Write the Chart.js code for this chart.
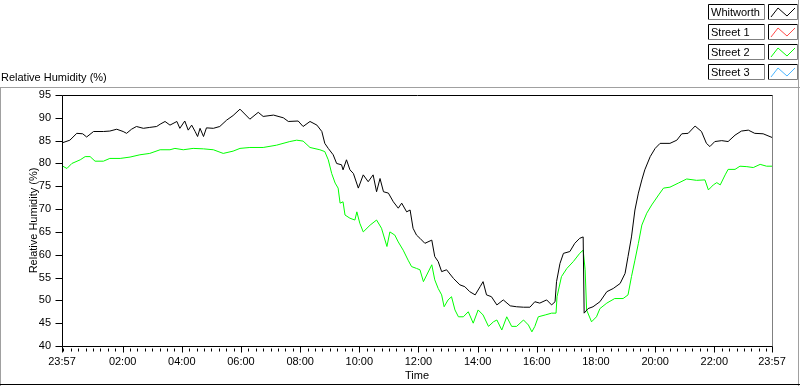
<!DOCTYPE html>
<html>
<head>
<meta charset="utf-8">
<script src="https://cdn.jsdelivr.net/npm/chart.js@4.4.0/dist/chart.umd.min.js"></script>
<style>
  html, body { margin: 0; padding: 0; background: #fff; }
  #wrap { width: 800px; height: 386px; }
</style>
</head>
<body>
<div id="wrap"><canvas id="rhChart" width="800" height="386"></canvas></div>
<script>
// Minutes after 23:57 and relative humidity (%)
const whitworthMin = [0,16,30,42,50,64,84,97,111,124,131,141,151,165,178,192,199,209,219,233,239,249,256,263,270,275,280,287,293,307,320,334,347,361,381,398,408,429,449,459,479,489,503,517,527,533,540,550,557,567,570,577,584,591,601,611,621,631,638,645,652,662,672,682,689,699,706,712,719,726,736,750,756,763,770,780,794,807,817,827,838,848,854,861,871,882,895,909,922,936,949,959,969,983,993,1000,1003,1010,1017,1030,1040,1050,1057,1059,1067,1077,1091,1105,1118,1132,1142,1148,1155,1162,1169,1176,1182,1193,1203,1213,1233,1247,1257,1270,1284,1297,1307,1314,1324,1338,1351,1365,1378,1392,1405,1422,1440];
const whitworthRH = [84.5,85.1,86.6,86.5,85.8,87,87,87.1,87.5,87,86.6,87.5,88.1,87.7,87.9,88.1,88.6,89.2,88.4,89.2,87.7,89.3,87.3,88.4,87,85.9,87.7,85.9,87.8,87.7,88.1,89.5,90.5,91.9,89.7,91.2,90.3,90.6,90.0,89.2,89.3,88.1,89.2,88.4,87,84.4,83.3,81.9,80.0,79.7,78.6,80.8,78.6,77.8,74.6,77.5,76,77.5,73.8,76.7,73.8,73.5,71.6,70.2,71.3,69.4,69.8,65.8,64.3,63.6,62.5,63.2,59.6,58.5,56.3,56.7,54.8,53.4,53.0,51.9,51.2,53,54.1,51.2,50.8,49.0,50.1,48.8,48.6,48.5,48.5,49.7,49.4,50.1,49.0,49.7,54.1,58.1,60.3,60.7,62.5,63.6,63.9,47.2,48.2,48.6,49.7,51.9,52.6,53.7,55.9,59.6,63.9,69.8,73.5,76.4,78.6,81.5,83.3,84.4,84.4,85.1,86.5,86.6,88.2,87,84.4,83.7,84.8,85.0,84.8,86.2,87.1,87.3,86.6,86.5,85.7];

const street2Min = [0,10,20,37,47,57,67,84,97,118,138,158,178,199,219,229,246,266,287,307,327,347,361,381,408,435,462,476,489,503,523,533,540,547,554,560,564,570,574,584,594,598,604,611,625,638,648,659,665,675,682,692,702,709,719,726,733,750,756,763,770,775,783,790,797,804,814,824,834,844,854,865,875,882,892,902,912,922,936,946,953,959,966,980,993,1002,1004,1013,1024,1037,1050,1057,1061,1064,1074,1084,1091,1105,1121,1138,1148,1155,1162,1169,1176,1186,1196,1210,1220,1233,1250,1267,1287,1304,1311,1321,1328,1335,1345,1351,1365,1375,1389,1402,1416,1429,1440];
const street2RH = [79.5,78.9,80.0,80.8,81.5,81.5,80.5,80.5,81.1,81.1,81.4,81.9,82.2,83.0,83.0,83.3,83.0,83.3,83.2,83.0,82.2,82.7,83.3,83.5,83.5,84.0,84.8,85.1,84.9,83.5,83.0,82.6,80.8,77.8,75.7,74.6,71.3,71.6,68.7,68.0,67.6,69.4,66.9,65.0,66.5,67.6,65.8,61.8,65.0,64.3,62.8,61.0,58.8,57.4,57.0,56.7,54.1,57.8,54.5,52.6,51.2,48.6,50.1,50.8,47.9,46.4,46.4,47.5,45.0,47.9,46.8,44.3,45.3,45.7,43.5,46.4,44.3,44.3,45.7,44.6,43.1,44.3,46.4,46.8,47.2,47.2,50.8,55.2,57.0,58.5,60.3,61.0,56.7,47.9,45.3,46.4,48.2,49.4,50.4,50.4,51.2,55.2,58.8,62.5,66.5,69.1,70.9,73.1,74.6,74.8,75.7,76.6,76.3,76.4,74.2,75.3,75.8,75.3,77.5,78.7,78.7,79.4,79.3,79.1,79.8,79.4,79.4];

const seriesNames = ['Whitworth', 'Street 1', 'Street 2', 'Street 3'];
const seriesColors = ['#000000', '#ff4848', '#00ff00', '#48b4ff'];

// x axis: minutes after 23:57, labelled every 2 h
const timeTicks = [0, 123, 243, 363, 483, 603, 723, 843, 963, 1083, 1203, 1323, 1440];
const timeLabels = ['23:57', '02:00', '04:00', '06:00', '08:00', '10:00', '12:00', '14:00', '16:00', '18:00', '20:00', '22:00', '23:57'];
const rhMin = 40, rhMax = 95, rhStep = 5;

const FONT = { family: 'Liberation Sans, Arial, sans-serif', size: 11 };

function toPoints(xs, ys) {
    return xs.map((x, i) => ({ x: x, y: ys[i] }));
}

// Frame, tick marks, legend panel and the top label (LabVIEW-style)
const framePlugin = {
    id: 'frame',
    afterDraw(chart) {
        const ctx = chart.ctx;
        const a = chart.chartArea;
        const xs = chart.scales.x;
        const ys = chart.scales.y;
        ctx.save();
        ctx.lineWidth = 1;

        // outer panel
        ctx.strokeStyle = '#a0a0a0';
        ctx.beginPath();
        ctx.moveTo(0, 87.5); ctx.lineTo(800, 87.5);
        ctx.moveTo(0.5, 87.5); ctx.lineTo(0.5, 386);
        ctx.moveTo(798.5, 0); ctx.lineTo(798.5, 386);
        ctx.stroke();
        ctx.strokeStyle = '#000';
        ctx.beginPath();
        ctx.moveTo(0, 384.5); ctx.lineTo(800, 384.5);
        ctx.stroke();

        // plot border
        const L = Math.round(a.left) + 0.5, R = Math.round(a.right) + 0.5;
        const T = Math.round(a.top) + 0.5, B = Math.round(a.bottom) + 0.5;
        ctx.strokeStyle = '#808080';
        ctx.beginPath();
        ctx.moveTo(R, T); ctx.lineTo(R, B);
        ctx.stroke();
        ctx.strokeStyle = '#000';
        ctx.beginPath();
        ctx.moveTo(L, T); ctx.lineTo(R, T);
        ctx.moveTo(L, T); ctx.lineTo(L, B);
        ctx.moveTo(L, B); ctx.lineTo(R, B);
        ctx.stroke();

        // y ticks
        ctx.beginPath();
        for (let v = rhMin; v <= rhMax; v += rhStep) {
            const y = Math.round(ys.getPixelForValue(v)) + 0.5;
            ctx.moveTo(L - 7, y); ctx.lineTo(L, y);
        }
        // x major ticks
        timeTicks.forEach(t => {
            const x = Math.round(xs.getPixelForValue(t)) + 0.5;
            ctx.moveTo(x, B); ctx.lineTo(x, B + 6);
        });
        // x minor ticks every 15 min from 00:00
        for (let t = 3; t < 1440; t += 15) {
            if (timeTicks.includes(t)) continue;
            const x = Math.round(xs.getPixelForValue(t)) + 0.5;
            ctx.moveTo(x, B + 2); ctx.lineTo(x, B + 5);
        }
        ctx.stroke();

        // top-left label
        ctx.fillStyle = '#000';
        ctx.font = FONT.size + 'px ' + FONT.family;
        ctx.textBaseline = 'alphabetic';
        ctx.textAlign = 'left';
        ctx.fillText('Relative Humidity (%)', 1, 81);

        // legend panel
        chart.data.datasets.forEach((ds, i) => {
            const y0 = 4 + i * 20;
            const h = 15;
            // name box
            ctx.fillStyle = '#fff';
            ctx.fillRect(708, y0, 56, h);
            ctx.strokeStyle = '#000';
            ctx.beginPath();
            ctx.moveTo(708.5, y0 + h + 0.5); ctx.lineTo(708.5, y0 + 0.5); ctx.lineTo(764.5, y0 + 0.5);
            ctx.stroke();
            ctx.strokeStyle = '#808080';
            ctx.beginPath();
            ctx.moveTo(764.5, y0 + 0.5); ctx.lineTo(764.5, y0 + h + 0.5); ctx.lineTo(708.5, y0 + h + 0.5);
            ctx.stroke();
            ctx.fillStyle = '#000';
            ctx.fillText(ds.label, 711, y0 + 12);
            // swatch box
            ctx.strokeStyle = '#000';
            ctx.beginPath();
            ctx.moveTo(768.5, y0 + h + 0.5); ctx.lineTo(768.5, y0 + 0.5); ctx.lineTo(797.5, y0 + 0.5);
            ctx.stroke();
            ctx.strokeStyle = '#808080';
            ctx.beginPath();
            ctx.moveTo(797.5, y0 + 0.5); ctx.lineTo(797.5, y0 + h + 0.5); ctx.lineTo(768.5, y0 + h + 0.5);
            ctx.stroke();
            ctx.strokeStyle = ds.borderColor;
            ctx.beginPath();
            ctx.moveTo(771, y0 + 13); ctx.lineTo(778, y0 + 4);
            ctx.lineTo(787, y0 + 12); ctx.lineTo(795, y0 + 4);
            ctx.stroke();
        });
        ctx.restore();
    }
};

const seriesData = [
    toPoints(whitworthMin, whitworthRH),
    [],
    toPoints(street2Min, street2RH),
    []
];

new Chart(document.getElementById('rhChart'), {
    type: 'line',
    data: {
        datasets: seriesNames.map((name, i) => ({
            label: name,
            data: seriesData[i],
            borderColor: seriesColors[i],
            backgroundColor: seriesColors[i],
            borderWidth: 1,
            pointRadius: 0,
            tension: 0,
            fill: false
        }))
    },
    options: {
        responsive: false,
        animation: false,
        devicePixelRatio: 1,
        layout: { padding: { top: 95, right: 28, left: 0, bottom: 0 } },
        plugins: {
            legend: { display: false },
            tooltip: { enabled: false }
        },
        scales: {
            x: {
                type: 'linear',
                min: 0,
                max: 1440,
                afterBuildTicks: scale => { scale.ticks = timeTicks.map(v => ({ value: v })); },
                afterFit: scale => { scale.height = 40; },
                ticks: {
                    autoSkip: false,
                    maxRotation: 0,
                    padding: 9,
                    color: '#000',
                    font: FONT,
                    callback: value => timeLabels[timeTicks.indexOf(value)]
                },
                grid: { display: false, drawTicks: false },
                border: { display: false },
                title: { display: true, text: 'Time', color: '#000', font: FONT, padding: { top: 0, bottom: 3 } }
            },
            y: {
                min: rhMin,
                max: rhMax,
                afterFit: scale => { scale.width = 62; },
                ticks: { stepSize: rhStep, padding: 11, color: '#000', font: FONT },
                grid: { display: false, drawTicks: false },
                border: { display: false },
                title: { display: true, text: 'Relative Humidity (%)', color: '#000', font: FONT, padding: { top: 27, bottom: 0 } }
            }
        }
    },
    plugins: [framePlugin]
});
</script>
</body>
</html>
